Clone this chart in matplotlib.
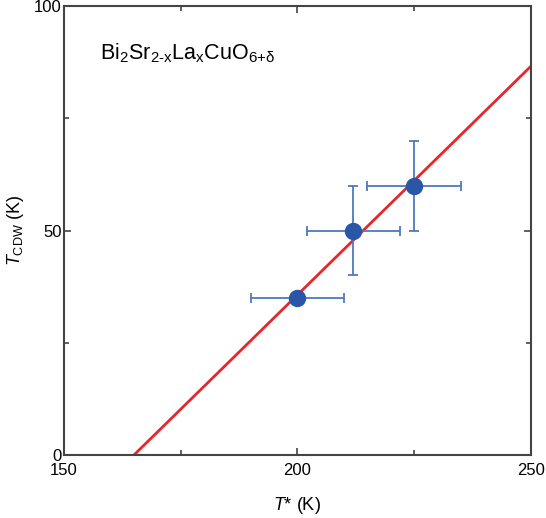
import matplotlib
matplotlib.use('Agg')
import matplotlib.pyplot as plt
import numpy as np

plt.rcParams['font.family'] = ['Liberation Sans', 'DejaVu Sans']
plt.rcParams['mathtext.fontset'] = 'custom'
plt.rcParams['mathtext.rm'] = 'Liberation Sans'
plt.rcParams['mathtext.it'] = 'Liberation Sans:italic'
plt.rcParams['mathtext.bf'] = 'Liberation Sans:bold'

# data
t_star = [200, 212, 225]
t_cdw = [35, 50, 60]
t_star_err = [10, 10, 10]
t_cdw_err = [0, 10, 10]

# linear fit line
fit_x = [165, 250]
fit_y = [0, 86.6]

fig = plt.figure(figsize=(5.46, 5.18), dpi=100)
ax = fig.add_axes([0.117, 0.1216, 0.8555, 0.8668])

ax.plot(fit_x, fit_y, color='#e8262a', lw=2, zorder=2)
ax.errorbar(t_star, t_cdw, xerr=t_star_err, yerr=t_cdw_err, fmt='none',
            ecolor='#4f78bd', elinewidth=1.3, capsize=3.5, capthick=1.3, zorder=3)
ax.plot(t_star, t_cdw, 'o', color='#2a56a8', ms=11.5, zorder=4)

ax.set_xlim(150, 250)
ax.set_ylim(0, 100)
ax.set_xticks([150, 200, 250])
ax.set_yticks([0, 50, 100])
ax.set_xticks([175, 225], minor=True)
ax.set_yticks([25, 75], minor=True)
ax.tick_params(which='both', direction='in', top=True, right=True,
               labelsize=12, color='#444444')
ax.tick_params(axis='x', which='major', pad=6)
ax.tick_params(axis='y', which='major', pad=1.5)
ax.tick_params(which='major', length=5, width=1.2)
ax.tick_params(which='minor', length=3.5, width=1.2)
for s in ax.spines.values():
    s.set_color('#444444')
    s.set_linewidth(1.5)

ax.set_xlabel(r'$T$* (K)', fontsize=13, labelpad=12)
ax.set_ylabel(r'$T_{\mathrm{CDW}}$ (K)', fontsize=13, labelpad=6)

ax.text(0.077, 0.882, r'Bi$_2$Sr$_{\mathrm{2\text{-}x}}$La$_\mathrm{x}$CuO$_{\mathrm{6{+}δ}}$',
        transform=ax.transAxes, fontsize=15.5, ha='left', va='baseline')

fig.savefig('out.png', dpi=100)
